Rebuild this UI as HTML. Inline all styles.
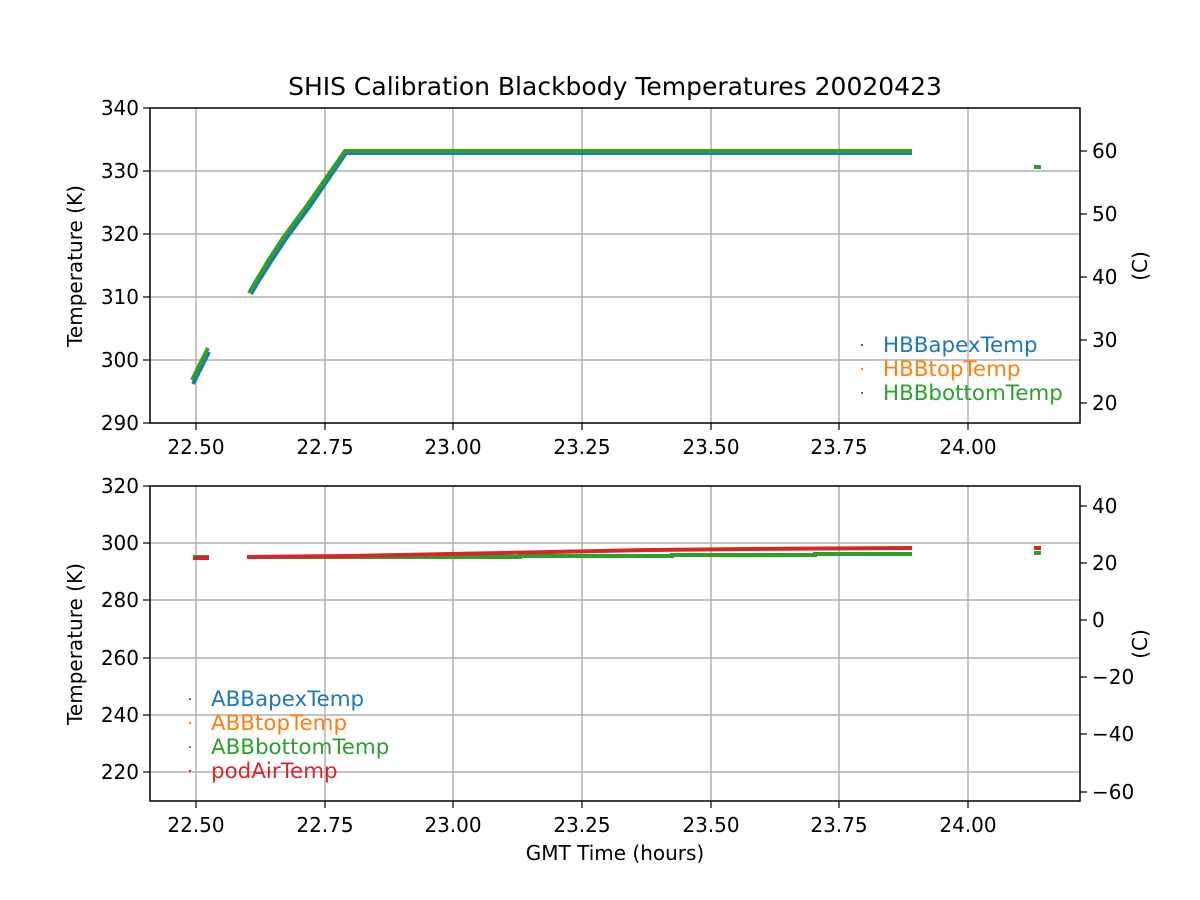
<!DOCTYPE html>
<html><head><style>body{margin:0;background:#fff}svg{display:block}text{font-family:"DejaVu Sans","Liberation Sans",sans-serif;font-size:20px;fill:#000}</style></head><body>
<svg width="1200" height="900" xmlns="http://www.w3.org/2000/svg">
<rect width="1200" height="900" fill="#fff"/>
<text x="615" y="95" text-anchor="middle" style="font-size:25px">SHIS Calibration Blackbody Temperatures 20020423</text>
<g stroke="#b0b0b0" stroke-width="1.5">
<line x1="196" y1="108" x2="196" y2="423"/><line x1="325" y1="108" x2="325" y2="423"/><line x1="453" y1="108" x2="453" y2="423"/><line x1="582" y1="108" x2="582" y2="423"/><line x1="711" y1="108" x2="711" y2="423"/><line x1="839" y1="108" x2="839" y2="423"/><line x1="968" y1="108" x2="968" y2="423"/>
<line x1="150" y1="171" x2="1080" y2="171"/><line x1="150" y1="234" x2="1080" y2="234"/><line x1="150" y1="297" x2="1080" y2="297"/><line x1="150" y1="360" x2="1080" y2="360"/>
<line x1="196" y1="486" x2="196" y2="801"/><line x1="325" y1="486" x2="325" y2="801"/><line x1="453" y1="486" x2="453" y2="801"/><line x1="582" y1="486" x2="582" y2="801"/><line x1="711" y1="486" x2="711" y2="801"/><line x1="839" y1="486" x2="839" y2="801"/><line x1="968" y1="486" x2="968" y2="801"/>
<line x1="150" y1="543" x2="1080" y2="543"/><line x1="150" y1="600" x2="1080" y2="600"/><line x1="150" y1="658" x2="1080" y2="658"/><line x1="150" y1="715" x2="1080" y2="715"/><line x1="150" y1="772" x2="1080" y2="772"/>
</g>
<g fill="none" stroke-width="4">
<polyline stroke="#1f77b4" points="193,384 209,352"/>
<polyline stroke="#1f77b4" points="251,294 258,282 270,263 285,240 310,206 346,153 370,153 912,153"/>
<polyline stroke="#2ca02c" points="192,380 208,348"/>
<polyline stroke="#2ca02c" points="249,293 256,281 268,261 283,238 308,204 345,151 912,151"/>
<polyline stroke="#2ca02c" points="1034,167 1041,167"/>
</g>
<g fill="none" stroke-width="4">
<polyline stroke="#2ca02c" points="193,557 209,557"/>
<polyline stroke="#2ca02c" points="247,557 520,557 520,556 672,556 672,555 815,555 815,554 912,554"/>
<polyline stroke="#d62728" points="193,558 209,558"/>
<polyline stroke="#d62728" points="247,557 350,556 450,554 550,552 650,550 750,549 912,548"/>
<polyline stroke="#2ca02c" points="1034,553 1041,553"/>
<polyline stroke="#d62728" points="1034,548 1041,548"/>
</g>
<g fill="none" stroke="#000" stroke-width="1.5">
<rect x="150" y="108" width="930" height="315"/>
<rect x="150" y="486" width="930" height="315"/>
</g>
<g stroke="#000" stroke-width="1.2">
<line x1="196" y1="423" x2="196" y2="430"/><line x1="325" y1="423" x2="325" y2="430"/><line x1="453" y1="423" x2="453" y2="430"/><line x1="582" y1="423" x2="582" y2="430"/><line x1="711" y1="423" x2="711" y2="430"/><line x1="839" y1="423" x2="839" y2="430"/><line x1="968" y1="423" x2="968" y2="430"/>
<line x1="196" y1="801" x2="196" y2="808"/><line x1="325" y1="801" x2="325" y2="808"/><line x1="453" y1="801" x2="453" y2="808"/><line x1="582" y1="801" x2="582" y2="808"/><line x1="711" y1="801" x2="711" y2="808"/><line x1="839" y1="801" x2="839" y2="808"/><line x1="968" y1="801" x2="968" y2="808"/>
<line x1="143" y1="108" x2="150" y2="108"/><line x1="143" y1="171" x2="150" y2="171"/><line x1="143" y1="234" x2="150" y2="234"/><line x1="143" y1="297" x2="150" y2="297"/><line x1="143" y1="360" x2="150" y2="360"/><line x1="143" y1="423" x2="150" y2="423"/>
<line x1="1080" y1="151" x2="1087" y2="151"/><line x1="1080" y1="214" x2="1087" y2="214"/><line x1="1080" y1="277" x2="1087" y2="277"/><line x1="1080" y1="340" x2="1087" y2="340"/><line x1="1080" y1="403" x2="1087" y2="403"/>
<line x1="143" y1="486" x2="150" y2="486"/><line x1="143" y1="543" x2="150" y2="543"/><line x1="143" y1="600" x2="150" y2="600"/><line x1="143" y1="658" x2="150" y2="658"/><line x1="143" y1="715" x2="150" y2="715"/><line x1="143" y1="772" x2="150" y2="772"/>
<line x1="1080" y1="506" x2="1087" y2="506"/><line x1="1080" y1="563" x2="1087" y2="563"/><line x1="1080" y1="620" x2="1087" y2="620"/><line x1="1080" y1="677" x2="1087" y2="677"/><line x1="1080" y1="734" x2="1087" y2="734"/><line x1="1080" y1="792" x2="1087" y2="792"/>
</g>
<g text-anchor="middle">
<text x="196" y="454">22.50</text><text x="325" y="454">22.75</text><text x="453" y="454">23.00</text><text x="582" y="454">23.25</text><text x="711" y="454">23.50</text><text x="839" y="454">23.75</text><text x="968" y="454">24.00</text>
<text x="196" y="832">22.50</text><text x="325" y="832">22.75</text><text x="453" y="832">23.00</text><text x="582" y="832">23.25</text><text x="711" y="832">23.50</text><text x="839" y="832">23.75</text><text x="968" y="832">24.00</text>
<text x="615" y="860">GMT Time (hours)</text>
</g>
<g text-anchor="end">
<text x="139" y="115">340</text><text x="139" y="178">330</text><text x="139" y="241">320</text><text x="139" y="304">310</text><text x="139" y="367">300</text><text x="139" y="430">290</text>
<text x="139" y="493">320</text><text x="139" y="550">300</text><text x="139" y="607">280</text><text x="139" y="665">260</text><text x="139" y="722">240</text><text x="139" y="779">220</text>
</g>
<g>
<text x="1092" y="158">60</text><text x="1092" y="221">50</text><text x="1092" y="284">40</text><text x="1092" y="347">30</text><text x="1092" y="410">20</text>
<text x="1092" y="513">40</text><text x="1092" y="570">20</text><text x="1092" y="627">0</text><text x="1092" y="684">−20</text><text x="1092" y="741">−40</text><text x="1092" y="799">−60</text>
</g>
<text transform="translate(82,266) rotate(-90)" text-anchor="middle">Temperature (K)</text>
<text transform="translate(82,644) rotate(-90)" text-anchor="middle">Temperature (K)</text>
<text transform="translate(1147,266) rotate(-90)" text-anchor="middle">(C)</text>
<text transform="translate(1147,644) rotate(-90)" text-anchor="middle">(C)</text>
<g style="font-size:21.4px">
<rect x="861" y="344" width="2" height="2" fill="#1f77b4"/><text x="883" y="352" style="fill:#1f77b4;font-size:21.4px">HBBapexTemp</text>
<rect x="861" y="368" width="2" height="2" fill="#ff7f0e"/><text x="883" y="376" style="fill:#ff7f0e;font-size:21.4px">HBBtopTemp</text>
<rect x="861" y="392" width="2" height="2" fill="#2ca02c"/><text x="883" y="400" style="fill:#2ca02c;font-size:21.4px">HBBbottomTemp</text>
<rect x="189" y="698" width="2" height="2" fill="#1f77b4"/><text x="211" y="706" style="fill:#1f77b4;font-size:21.4px">ABBapexTemp</text>
<rect x="189" y="722" width="2" height="2" fill="#ff7f0e"/><text x="211" y="730" style="fill:#ff7f0e;font-size:21.4px">ABBtopTemp</text>
<rect x="189" y="746" width="2" height="2" fill="#2ca02c"/><text x="211" y="754" style="fill:#2ca02c;font-size:21.4px">ABBbottomTemp</text>
<rect x="189" y="770" width="2" height="2" fill="#d62728"/><text x="211" y="778" style="fill:#d62728;font-size:21.4px">podAirTemp</text>
</g>
</svg>
</body></html>
